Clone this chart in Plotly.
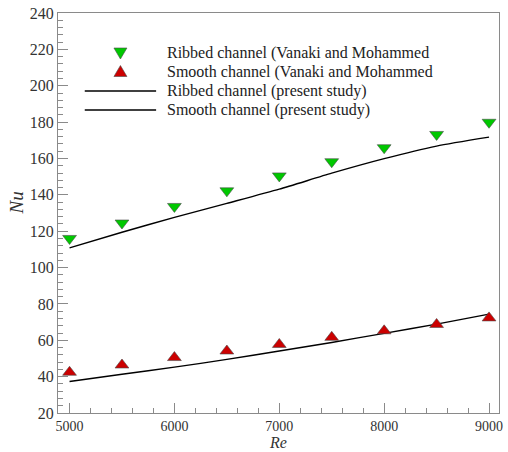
import plotly.graph_objects as go

# Reynolds numbers
re_values = [5000, 5500, 6000, 6500, 7000, 7500, 8000, 8500, 9000]

# Nusselt numbers, reference data (Vanaki and Mohammed)
nu_ribbed_ref = [116.0, 124.5, 133.6, 142.2, 150.4, 158.2, 165.9, 173.2, 179.9]
nu_smooth_ref = [42.4, 46.4, 50.5, 54.1, 57.7, 61.6, 65.2, 68.7, 72.3]

# Nusselt numbers, present study
nu_ribbed_cfd = [110.8, 119.4, 127.6, 135.3, 143.1, 151.9, 159.9, 166.8, 171.7]
nu_smooth_cfd = [37.3, 41.3, 45.2, 49.5, 54.1, 58.8, 63.8, 68.9, 74.4]

legend_labels = [
    "Ribbed channel (Vanaki and Mohammed",
    "Smooth channel (Vanaki and Mohammed",
    "Ribbed channel (present study)",
    "Smooth channel (present study)",
]

GREEN = "#00c800"
RED = "#cc0000"
SERIF = "Liberation Serif"

W, H = 508, 452
ML, MR, MT, MB = 58, 5, 13, 39
PW, PH = W - ML - MR, H - MT - MB


def px_x(px):
    return (px - ML) / PW


def px_y(py):
    return (H - MB - py) / PH


fig = go.Figure()

fig.add_trace(go.Scatter(
    x=re_values, y=nu_ribbed_cfd, mode="lines",
    line=dict(color="black", width=1.4, shape="spline", smoothing=0.6),
    showlegend=False,
))
fig.add_trace(go.Scatter(
    x=re_values, y=nu_smooth_cfd, mode="lines",
    line=dict(color="black", width=1.4, shape="spline", smoothing=0.6),
    showlegend=False,
))
fig.add_trace(go.Scatter(
    x=re_values, y=nu_ribbed_ref, mode="markers",
    marker=dict(symbol="triangle-down", size=12, color=GREEN,
                line=dict(color="#4a4a4a", width=0.6)),
    showlegend=False,
))
fig.add_trace(go.Scatter(
    x=re_values, y=nu_smooth_ref, mode="markers",
    marker=dict(symbol="triangle-up", size=12, color=RED,
                line=dict(color="#4a4a4a", width=0.6)),
    showlegend=False,
))

# Hand-built legend in the upper-left corner of the plot
shapes = []
annotations = []
rows_y = [53, 71.5, 91, 110]
marker_x = 121
line_x0, line_x1 = 85, 157
text_x = 166

tri_down = "M-6.5,5 L6.5,5 L0,-6 Z"
tri_up = "M-6.5,-5 L6.5,-5 L0,6 Z"
for path, color, ry in [(tri_down, GREEN, rows_y[0]), (tri_up, RED, rows_y[1])]:
    shapes.append(dict(
        type="path", xref="paper", yref="paper",
        xsizemode="pixel", ysizemode="pixel",
        xanchor=px_x(marker_x), yanchor=px_y(ry),
        path=path, fillcolor=color, line=dict(color="#4a4a4a", width=0.6),
    ))
for ry in rows_y[2:]:
    shapes.append(dict(
        type="line", xref="paper", yref="paper",
        x0=px_x(line_x0), x1=px_x(line_x1), y0=px_y(ry), y1=px_y(ry),
        line=dict(color="black", width=1.4),
    ))
for label, ry in zip(legend_labels, rows_y):
    annotations.append(dict(
        text=label, xref="paper", yref="paper",
        x=px_x(text_x), y=px_y(ry), xanchor="left", yanchor="middle",
        showarrow=False, font=dict(family=SERIF, size=16, color="#222222"),
    ))

# Axis titles
annotations.append(dict(
    text="<i>Re</i>", xref="paper", yref="paper",
    x=px_x(280), y=px_y(452), xanchor="center", yanchor="bottom",
    borderpad=0, showarrow=False,
    font=dict(family=SERIF, size=16, color="#333333"),
))
annotations.append(dict(
    text="<i>Nu</i>", xref="paper", yref="paper",
    x=px_x(16), y=px_y(203), xanchor="center", yanchor="middle",
    textangle=-90, showarrow=False,
    font=dict(family=SERIF, size=19, color="#333333"),
))

axis_common = dict(
    showgrid=False, zeroline=False,
    showline=True, linecolor="#8a8a8a", linewidth=1, mirror=True,
    ticks="inside", tickcolor="#8a8a8a", ticklen=10, tickwidth=1,
    ticklabeloverflow="allow",
)

fig.update_layout(
    width=W, height=H,
    margin=dict(l=ML, r=MR, t=MT, b=MB),
    paper_bgcolor="white", plot_bgcolor="white",
    font=dict(family=SERIF),
    xaxis=dict(
        range=[4890, 9095], tickmode="array",
        tickvals=[5000, 6000, 7000, 8000, 9000],
        tickfont=dict(family=SERIF, size=14, color="#333333"),
        ticklabelstandoff=0,
        minor=dict(ticks="inside", dtick=200, tick0=5000, ticklen=5,
                   tickcolor="#8a8a8a", tickwidth=1),
        **axis_common,
    ),
    yaxis=dict(
        range=[20, 240], dtick=20, tick0=20,
        tickfont=dict(family=SERIF, size=16, color="#333333"),
        minor=dict(ticks="inside", dtick=4, tick0=20, ticklen=5,
                   tickcolor="#8a8a8a", tickwidth=1),
        **axis_common,
    ),
    shapes=shapes,
    annotations=annotations,
)

fig.write_html("out.html")
